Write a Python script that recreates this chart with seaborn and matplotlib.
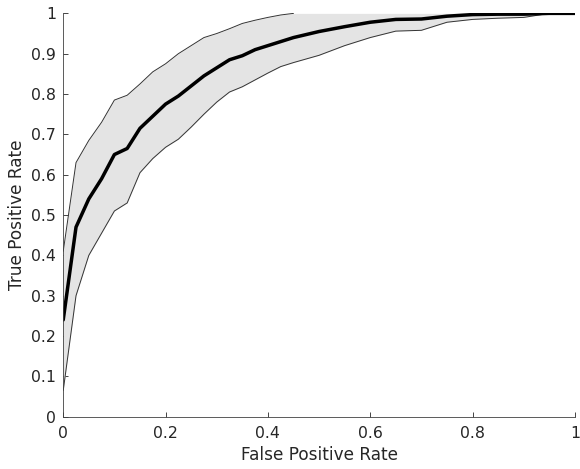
import numpy as np
import pandas as pd
import matplotlib
matplotlib.use('Agg')
import matplotlib.pyplot as plt
import seaborn as sns

# ROC 곡선 값
fpr = [0, 0.025, 0.05, 0.075, 0.1, 0.125, 0.15, 0.175, 0.2, 0.225, 0.25, 0.275,
       0.3, 0.325, 0.35, 0.375, 0.4, 0.425, 0.45, 0.5, 0.55, 0.6, 0.65, 0.7,
       0.75, 0.8, 0.85, 0.9, 0.95, 1.0]
tpr_mean = [0.24, 0.47, 0.54, 0.59, 0.65, 0.665, 0.715, 0.745, 0.775, 0.795, 0.82, 0.845,
            0.865, 0.885, 0.895, 0.91, 0.92, 0.93, 0.94, 0.955, 0.967, 0.978, 0.985, 0.986,
            0.993, 0.997, 0.998, 0.998, 1.0, 1.0]
tpr_upper = [0.41, 0.63, 0.685, 0.73, 0.785, 0.797, 0.825, 0.855, 0.875, 0.9, 0.92, 0.94,
             0.95, 0.962, 0.975, 0.983, 0.99, 0.996, 1.0, 1.0, 1.0, 1.0, 1.0, 1.0,
             1.0, 1.0, 1.0, 1.0, 1.0, 1.0]
tpr_lower = [0.065, 0.30, 0.40, 0.455, 0.51, 0.53, 0.605, 0.64, 0.668, 0.688, 0.718, 0.75,
             0.78, 0.805, 0.818, 0.835, 0.852, 0.868, 0.878, 0.896, 0.92, 0.94, 0.956, 0.958,
             0.978, 0.985, 0.988, 0.99, 1.0, 1.0]

xticks = [0, 0.2, 0.4, 0.6, 0.8, 1]
xticklabels = ['0', '0.2', '0.4', '0.6', '0.8', '1']
yticks = [0, 0.1, 0.2, 0.3, 0.4, 0.5, 0.6, 0.7, 0.8, 0.9, 1]
yticklabels = ['0', '0.1', '0.2', '0.3', '0.4', '0.5', '0.6', '0.7', '0.8', '0.9', '1']

df = pd.DataFrame({'fpr': fpr, 'mean': tpr_mean, 'upper': tpr_upper, 'lower': tpr_lower})
# 위쪽 경계선은 1에 닿는 곳까지만 보임
first_one = df.index[df['upper'] >= 1.0][0]
df_up = df.loc[:first_one]

sns.set_style('ticks')
plt.rcParams['font.family'] = ['DejaVu Sans']
plt.rcParams['xtick.direction'] = 'in'
plt.rcParams['ytick.direction'] = 'in'

fig = plt.figure(figsize=(5.8, 4.69), dpi=100)
ax = fig.add_axes([0.109, 0.1115, 0.8822, 0.86])

# 밴드
ax.fill_between(df['fpr'], df['lower'], df['upper'], color='#e4e4e4', linewidth=0)
sns.lineplot(x='fpr', y='upper', data=df_up, color='#333333', linewidth=0.7, ax=ax)
sns.lineplot(x='fpr', y='lower', data=df, color='#333333', linewidth=0.7, ax=ax)
# 평균
sns.lineplot(x='fpr', y='mean', data=df, color='black', linewidth=2.5, ax=ax)

ax.set_xlim(0, 1)
ax.set_ylim(0, 1)
ax.set_xticks(xticks)
ax.set_xticklabels(xticklabels)
ax.set_yticks(yticks)
ax.set_yticklabels(yticklabels)
ax.tick_params(labelsize=11.3, colors='#262626', length=3.6, width=0.6)
ax.tick_params(axis='x', pad=7)
ax.tick_params(axis='y', pad=5)
ax.set_xlabel('False Positive Rate', fontsize=12.2, color='#262626', labelpad=3.5)
ax.set_ylabel('True Positive Rate', fontsize=12.2, color='#262626', labelpad=4)
for s in ['top', 'right']:
    ax.spines[s].set_visible(False)
for s in ['left', 'bottom']:
    ax.spines[s].set_color('#404040')
    ax.spines[s].set_linewidth(0.6)

fig.savefig('out.png', dpi=100)
